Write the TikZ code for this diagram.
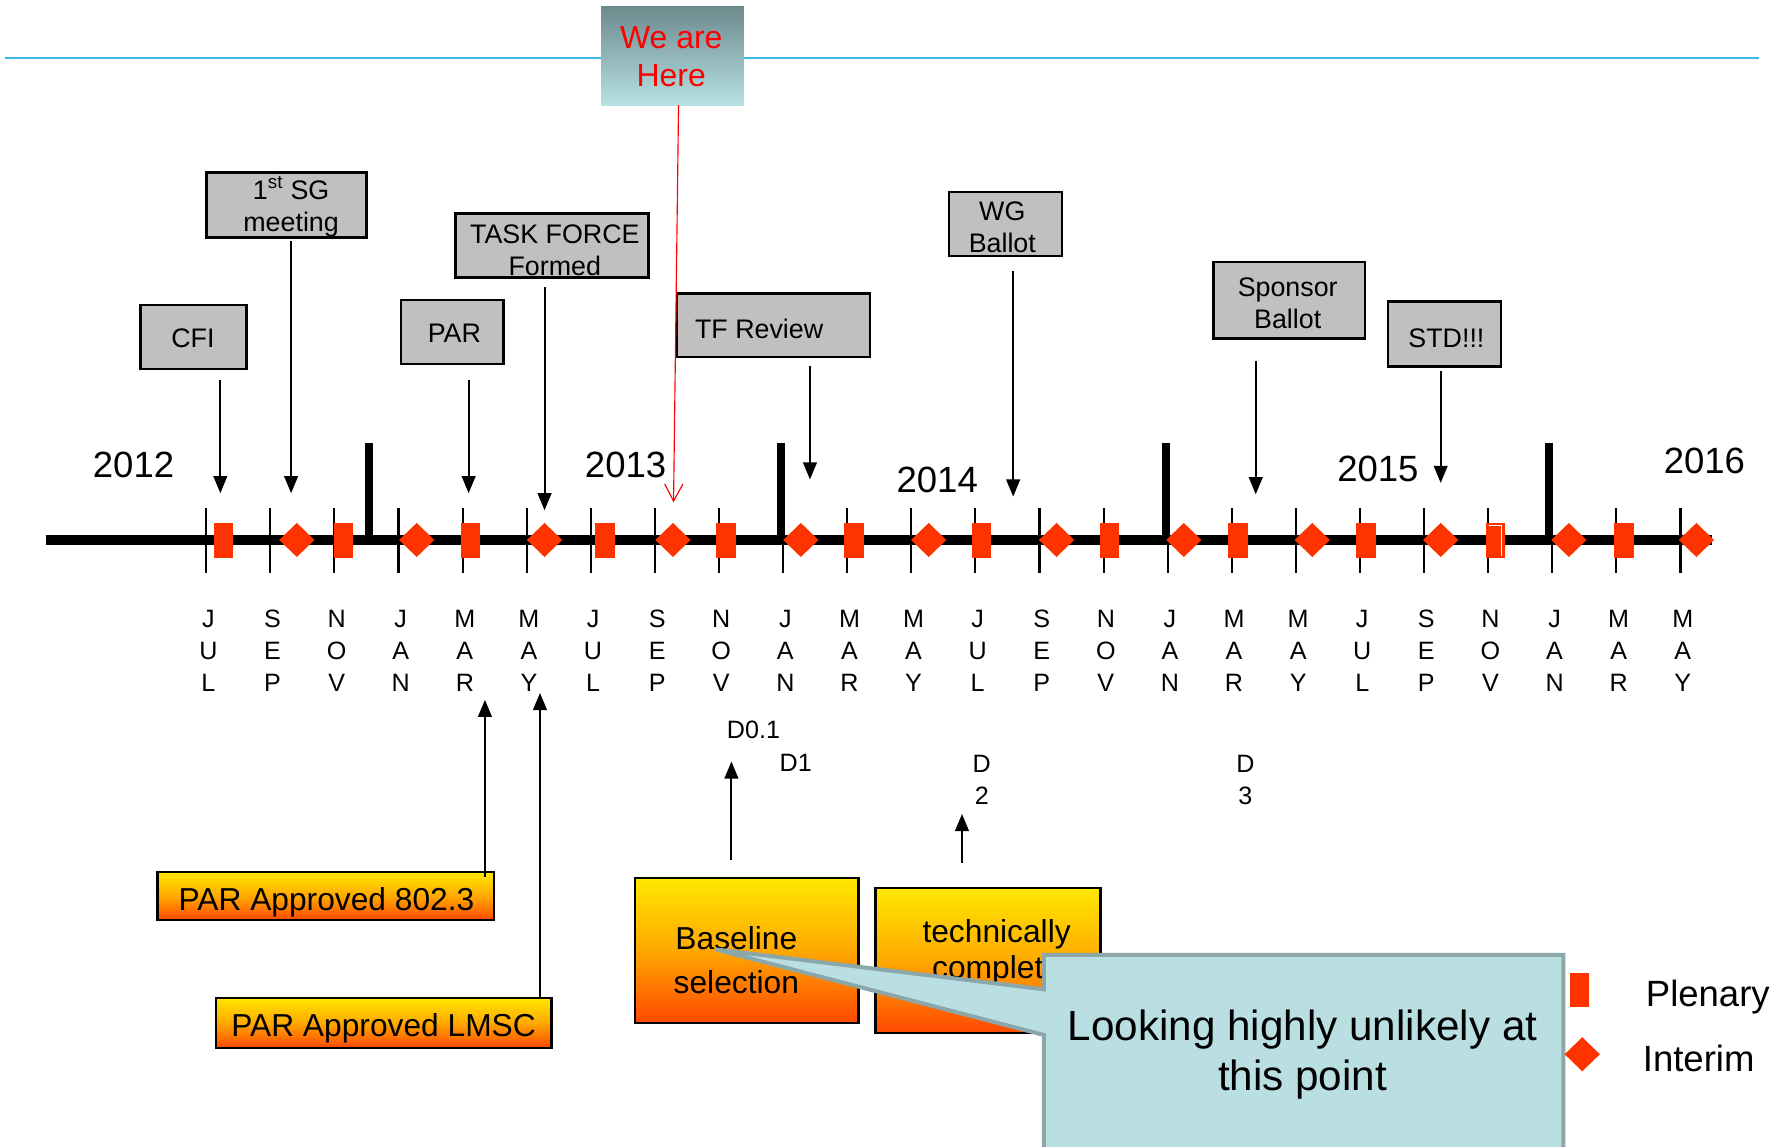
\documentclass[tikz,border=0pt]{standalone}
\usepackage{fontspec}
\setmainfont{Liberation Sans}
\usetikzlibrary{arrows.meta,shapes.geometric}
\definecolor{mkred}{HTML}{FF3300}
\definecolor{boxgray}{HTML}{C0C0C0}
\definecolor{skyline}{HTML}{3DB5E8}
\definecolor{callfill}{HTML}{B9DFE3}
\definecolor{calledge}{HTML}{8BA7AA}
\definecolor{hereTop}{HTML}{6E8A8D}
\definecolor{hereBot}{HTML}{B6E1E5}
\definecolor{orTop}{HTML}{FFE800}
\definecolor{orMid}{HTML}{FFA800}
\definecolor{orBot}{HTML}{FF4800}
\begin{document}
\begin{tikzpicture}[x=1pt,y=-1pt,
  graybox/.style={draw=black,line width=2pt,fill=boxgray,inner sep=0pt},
  orbox/.style={draw=black,line width=2pt,top color=orTop,bottom color=orBot,middle color=orMid,inner sep=0pt},
  txt/.style={inner sep=0pt,align=center,font=\fontsize{23.5}{28}\selectfont},
  smalltxt/.style={inner sep=0pt,align=center,font=\fontsize{22}{28}\selectfont},
  bigtxt/.style={inner sep=0pt,align=center,font=\fontsize{27.8}{32}\selectfont},
  yeartxt/.style={inner sep=0pt,font=\fontsize{32}{38}\selectfont},
  mon/.style={inner sep=0pt,align=center,font=\fontsize{22}{28}\selectfont},
  downarr/.style={-{Triangle[width=12pt,length=15pt]},line width=1.8pt},
  plen/.style={rectangle,fill=mkred,minimum width=17pt,minimum height=30pt,inner sep=0pt},
  intm/.style={diamond,fill=mkred,minimum width=31pt,minimum height=30pt,inner sep=0pt}]
\clip (0,0) rectangle (1568,1004);
\fill[white] (0,0) rectangle (1568,1004);

% top blue line
\draw[skyline,line width=1.8pt] (4,51) -- (1541,51);

% We are here
\node[inner sep=0pt,minimum width=125pt,minimum height=86pt,top color=hereTop,bottom color=hereBot] (here) at (589,49) {};
\node[inner sep=0pt,align=center,text=red,font=\fontsize{28}{33}\selectfont] (heretxt) at (588,49.5) {We are\\Here};

% gray boxes
\node[graybox,minimum width=93pt,minimum height=56pt] (cfi) at (169.5,295) {};
\node[txt] (cfit) at (169,296) {CFI};
\node[graybox,minimum width=140pt,minimum height=57pt] (sg) at (251,179.5) {};
\node[txt] (sgt) at (255,181) {1\textsuperscript{st} SG\\meeting};
\node[graybox,minimum width=90pt,minimum height=56pt] (par) at (396,291) {};
\node[txt] (part) at (398,292) {PAR};
\node[graybox,minimum width=169pt,minimum height=56pt] (tf) at (483.5,215) {};
\node[txt] (tft) at (486,219) {TASK FORCE\\Formed};
\node[graybox,minimum width=169pt,minimum height=56pt] (tfr) at (677.5,285) {};
\node[txt] (tfrt) at (665,288) {TF Review};
\node[graybox,minimum width=99pt,minimum height=56pt] (wg) at (880.5,196) {};
\node[txt] (wgt) at (878,199) {WG\\Ballot};
\node[graybox,minimum width=133pt,minimum height=67pt] (sp) at (1129.5,263) {};
\node[txt] (spt) at (1128,266) {Sponsor\\Ballot};
\node[graybox,minimum width=99pt,minimum height=57pt] (std) at (1265.5,292.5) {};
\node[txt] (stdt) at (1267,296) {STD!!!};

% year labels
\node[yeartxt] (y12) at (117,407) {2012};
\node[yeartxt] (y13) at (548,407) {2013};
\node[yeartxt] (y14) at (821,420) {2014};
\node[yeartxt] (y15) at (1207,411) {2015};
\node[yeartxt] (y16) at (1493,404) {2016};

% arrow coordinates
\coordinate (cfiA) at (193,333);   \coordinate (cfiB) at (193,432);
\coordinate (sgA) at (255,211);    \coordinate (sgB) at (255,432);
\coordinate (parA) at (410.5,333); \coordinate (parB) at (410.5,432);
\coordinate (tfA) at (477,251);    \coordinate (tfB) at (477,447);
\coordinate (tfrA) at (709.5,321); \coordinate (tfrB) at (709.5,420);
\coordinate (wgA) at (887.5,237);  \coordinate (wgB) at (887.5,435);
\coordinate (spA) at (1100,316);   \coordinate (spB) at (1100,433);
\coordinate (stdA) at (1262,325);  \coordinate (stdB) at (1262,423);
\draw[downarr] (cfiA) -- (cfiB);
\draw[downarr] (sgA) -- (sgB);
\draw[downarr] (parA) -- (parB);
\draw[downarr] (tfA) -- (tfB);
\draw[downarr] (tfrA) -- (tfrB);
\draw[downarr] (wgA) -- (wgB);
\draw[downarr] (spA) -- (spB);
\draw[downarr] (stdA) -- (stdB);

% red arrow
\coordinate (hereB) at (590,440);
\draw[red,line width=1pt,-{Straight Barb[length=15pt,width=16pt]}] (594.4,92) -- (hereB);

% timeline
\draw[line width=9.5pt] (40,473) -- (1500,473);
\foreach \k in {0,...,23} {
  \draw[line width=1.8pt] ({180.6+56.15*\k},445) -- ({180.6+56.15*\k},502);
}
\foreach \x in {323,684.5,1021,1357} {
  \draw[line width=7pt] (\x,388) -- (\x,473);
}
% markers
\foreach \x [count=\i] in {196,301,412,530,636,748,860,972,1084.5,1196.5,1310,1422.5} {
  \node[plen] (pl\i) at (\x,473.5) {};
}
\draw[white,line width=0.8pt] (1304,460) -- (1315.5,460) -- (1315.5,487);
\foreach \x [count=\i] in {260,365,477,589.5,701.5,813.5,925.5,1037,1149.5,1262,1374.3,1486} {
  \node[intm] (im\i) at (\x,473) {};
}

% month labels
\foreach \a/\b/\c [count=\i from 0] in {J/U/L,S/E/P,N/O/V,J/A/N,M/A/R,M/A/Y,J/U/L,S/E/P,N/O/V,J/A/N,M/A/R,M/A/Y,J/U/L,S/E/P,N/O/V,J/A/N,M/A/R,M/A/Y,J/U/L,S/E/P,N/O/V,J/A/N,M/A/R,M/A/Y} {
  \node[mon] (mon\i) at ({182.6+56.15*\i},570) {\a\\\b\\\c};
}

% draft labels
\node[smalltxt] (d01) at (660,639) {D0.1};
\node[smalltxt] (d1) at (697,668) {D1};
\node[smalltxt] (d2) at (860,683) {D\\2};
\node[smalltxt] (d3) at (1091,683) {D\\3};

% orange boxes
\node[orbox,minimum width=295pt,minimum height=42pt] (pa8023) at (285.5,785) {};
\node[bigtxt] (pa8023t) at (286,790) {PAR Approved 802.3};
\node[orbox,minimum width=294pt,minimum height=44pt] (palmsc) at (336,896) {};
\node[bigtxt] (palmsct) at (336,901) {PAR Approved LMSC};
\node[orbox,minimum width=196pt,minimum height=127pt] (base) at (654,832.5) {};
\node[inner sep=0pt,align=center,font=\fontsize{27.8}{39}\selectfont] (baset) at (645,841) {Baseline\\selection};
\node[orbox,minimum width=197pt,minimum height=127pt] (tech) at (865.5,841.5) {};
\node[bigtxt] (techt) at (873,834) {technically\\complete};

% up arrows
\coordinate (u1A) at (424.8,768); \coordinate (u1B) at (424.8,613);
\coordinate (u2A) at (473,874);   \coordinate (u2B) at (473,607);
\coordinate (u3A) at (640.7,753); \coordinate (u3B) at (640.7,667);
\coordinate (u4A) at (842.7,756); \coordinate (u4B) at (842.7,713);
\draw[downarr] (u1A) -- (u1B);
\draw[downarr] (u2A) -- (u2B);
\draw[downarr] (u3A) -- (u3B);
\draw[downarr] (u4A) -- (u4B);

% callout
\draw[draw=calledge,fill=callfill,line width=3.5pt,line join=miter]
  (914.4,836.5) -- (1369.5,836.5) -- (1369.5,1020) -- (914.4,1020) -- (914.4,906.6)
  -- (626.7,831.6) -- (914.4,866.6) -- cycle;
\node[inner sep=0pt,align=center,font=\fontsize{37}{44}\selectfont] (callt) at (1141,924) {Looking highly unlikely at\\this point};

% legend
\node[plen,minimum width=16.5pt,minimum height=30pt] (legp) at (1383.3,867) {};
\node[intm] (legi) at (1386,923.5) {};
\node[inner sep=0pt,font=\fontsize{32}{38}\selectfont] (legpt) at (1496,873) {Plenary};
\node[inner sep=0pt,font=\fontsize{32}{38}\selectfont] (legit) at (1488,927) {Interim};
\end{tikzpicture}
\end{document}
